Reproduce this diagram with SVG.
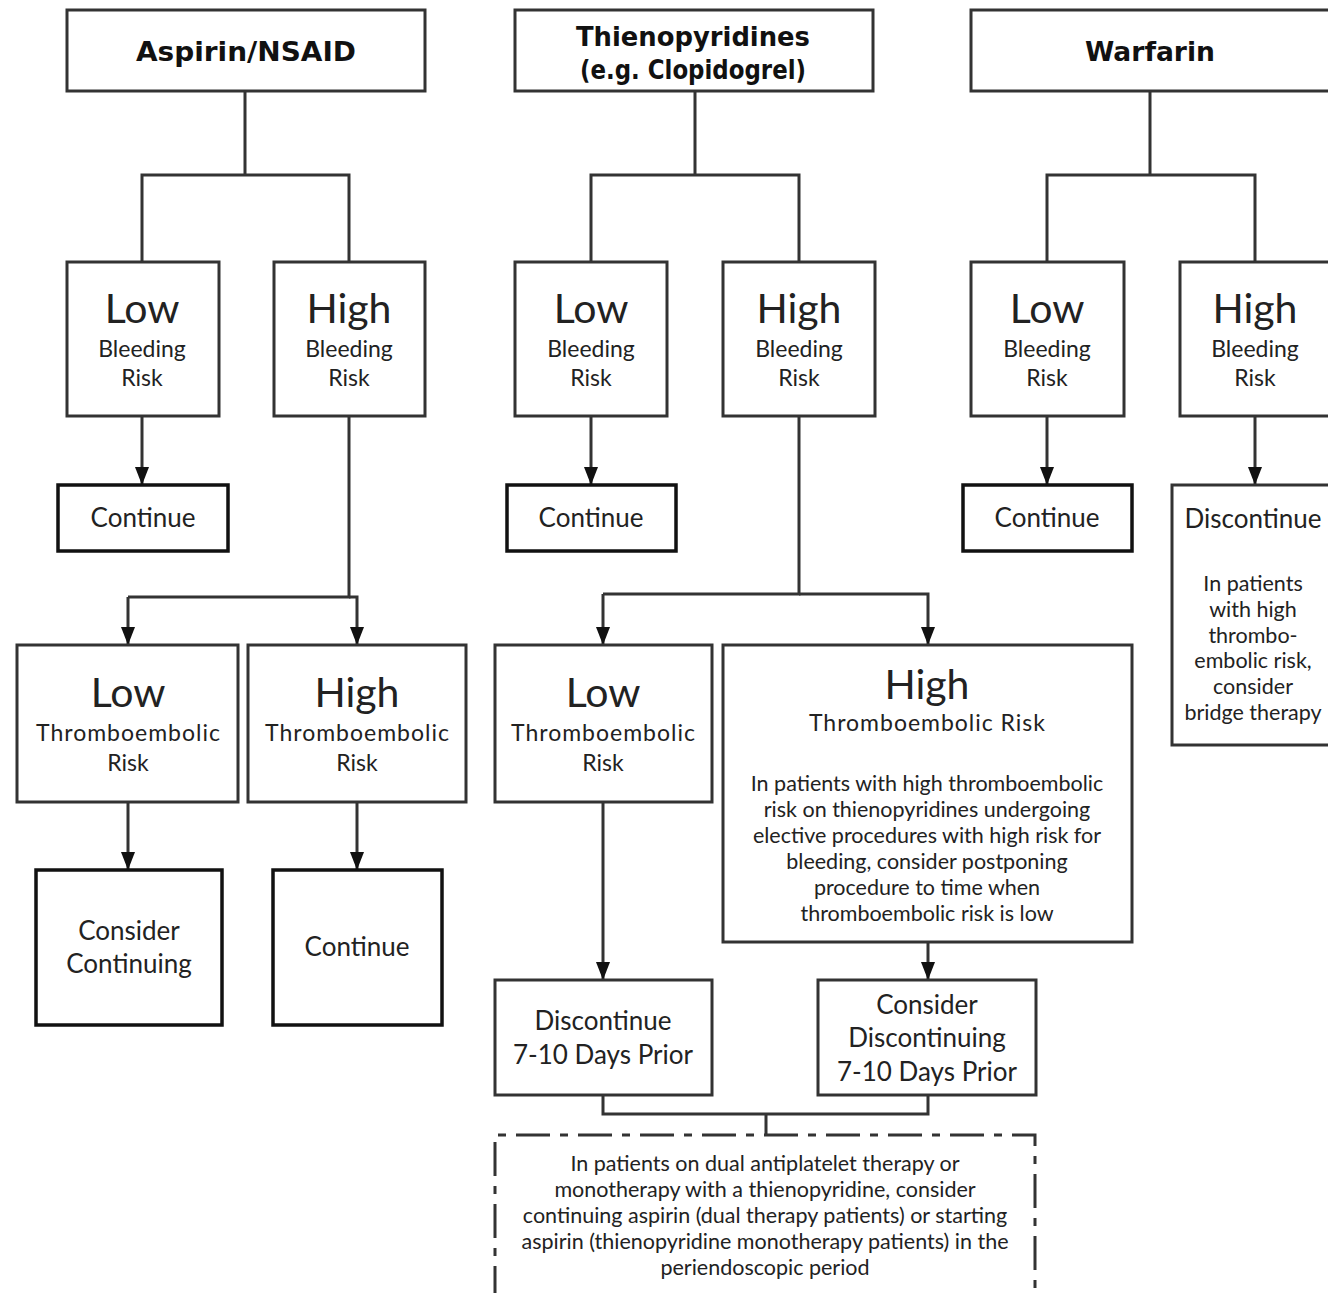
<svg xmlns="http://www.w3.org/2000/svg" width="1328" height="1293" viewBox="0 0 1328 1293">
<style>
.box{fill:#fff;stroke:#333;stroke-width:3}
.bbox{fill:#fff;stroke:#111;stroke-width:3.5}
.ln{fill:none;stroke:#333;stroke-width:3}
text{font-family:Lato,"Open Sans","Liberation Sans",sans-serif;fill:#222;text-anchor:middle}
.hd{font-family:"DejaVu Sans","Liberation Sans",sans-serif;font-weight:bold;font-size:26px;fill:#111}
.big{font-size:41px}
.mid{font-size:23px}
.act{font-size:26px}
.sm{font-size:21.5px}
.dash{fill:none;stroke:#333;stroke-width:3;stroke-dasharray:34 10 8 10}
</style>
<defs>
<marker id="ah" viewBox="0 -7 18 14" refX="18" refY="0" markerWidth="18" markerHeight="14" markerUnits="userSpaceOnUse" orient="auto">
<path d="M0,-7 L18,0 L0,7 z" fill="#111"/>
</marker>
</defs>

<g id="connectors">
<path class="ln" d="M245,91 V175 M142,262 V175 H349 V262"/>
<path class="ln" d="M695,91 V175 M591,262 V175 H799 V262"/>
<path class="ln" d="M1150,91 V175 M1047,262 V175 H1255 V262"/>
<path class="ln" d="M142,416 V485" marker-end="url(#ah)"/>
<path class="ln" d="M591,416 V485" marker-end="url(#ah)"/>
<path class="ln" d="M1047,416 V485" marker-end="url(#ah)"/>
<path class="ln" d="M1255,416 V485" marker-end="url(#ah)"/>
<path class="ln" d="M349,416 V597 H128"/>
<path class="ln" d="M128,597 V645" marker-end="url(#ah)"/>
<path class="ln" d="M349,597 H357 V645" marker-end="url(#ah)"/>
<path class="ln" d="M128,802 V870" marker-end="url(#ah)"/>
<path class="ln" d="M357,802 V870" marker-end="url(#ah)"/>
<path class="ln" d="M799,416 V594 H603"/>
<path class="ln" d="M603,594 V645" marker-end="url(#ah)"/>
<path class="ln" d="M799,594 H928 V645" marker-end="url(#ah)"/>
<path class="ln" d="M603,802 V980" marker-end="url(#ah)"/>
<path class="ln" d="M928,942 V980" marker-end="url(#ah)"/>
<path class="ln" d="M603,1095 V1114 H928 V1095 M766,1114 V1135"/>
</g>

<g id="n-aspirin"><rect class="box" x="67" y="10" width="358" height="81"/><text class="hd" x="246" y="61" textLength="220" lengthAdjust="spacingAndGlyphs">Aspirin/NSAID</text></g>
<g id="n-thieno"><rect class="box" x="515" y="10" width="358" height="81"/><text class="hd" x="693" y="46" textLength="234" lengthAdjust="spacingAndGlyphs">Thienopyridines</text><text class="hd" x="693" y="79" textLength="226" lengthAdjust="spacingAndGlyphs">(e.g. Clopidogrel)</text></g>
<g id="n-warfarin"><rect class="box" x="971" y="10" width="360" height="81"/><text class="hd" x="1150" y="61" textLength="130" lengthAdjust="spacingAndGlyphs">Warfarin</text></g>

<g id="n-a-low-bleed"><rect class="box" x="67" y="262" width="152" height="154"/><text class="big" x="142" y="323">Low</text><text class="mid" x="142" y="357">Bleeding</text><text class="mid" x="142" y="386">Risk</text></g>
<g id="n-a-high-bleed"><rect class="box" x="274" y="262" width="151" height="154"/><text class="big" x="349" y="323">High</text><text class="mid" x="349" y="357">Bleeding</text><text class="mid" x="349" y="386">Risk</text></g>
<g id="n-t-low-bleed"><rect class="box" x="515" y="262" width="152" height="154"/><text class="big" x="591" y="323">Low</text><text class="mid" x="591" y="357">Bleeding</text><text class="mid" x="591" y="386">Risk</text></g>
<g id="n-t-high-bleed"><rect class="box" x="723" y="262" width="152" height="154"/><text class="big" x="799" y="323">High</text><text class="mid" x="799" y="357">Bleeding</text><text class="mid" x="799" y="386">Risk</text></g>
<g id="n-w-low-bleed"><rect class="box" x="971" y="262" width="153" height="154"/><text class="big" x="1047" y="323">Low</text><text class="mid" x="1047" y="357">Bleeding</text><text class="mid" x="1047" y="386">Risk</text></g>
<g id="n-w-high-bleed"><rect class="box" x="1180" y="262" width="151" height="154"/><text class="big" x="1255" y="323">High</text><text class="mid" x="1255" y="357">Bleeding</text><text class="mid" x="1255" y="386">Risk</text></g>

<g id="n-a-continue"><rect class="bbox" x="58" y="485" width="170" height="66"/><text class="act" x="143" y="527">Continue</text></g>
<g id="n-t-continue"><rect class="bbox" x="507" y="485" width="169" height="66"/><text class="act" x="591" y="527">Continue</text></g>
<g id="n-w-continue"><rect class="bbox" x="963" y="485" width="169" height="66"/><text class="act" x="1047" y="527">Continue</text></g>
<g id="n-w-discontinue"><rect class="box" x="1172" y="485" width="160" height="260"/><text class="act" x="1253" y="528">Discontinue</text>
<text class="sm" x="1253" y="591">In patients</text><text class="sm" x="1253" y="617">with high</text><text class="sm" x="1253" y="643">thrombo-</text><text class="sm" x="1253" y="668">embolic risk,</text><text class="sm" x="1253" y="694">consider</text><text class="sm" x="1253" y="720">bridge therapy</text></g>

<g id="n-a-low-thromb"><rect class="box" x="17" y="645" width="221" height="157"/><text class="big" x="128" y="707">Low</text><text class="mid" x="128" y="741" textLength="184" lengthAdjust="spacing">Thromboembolic</text><text class="mid" x="128" y="771">Risk</text></g>
<g id="n-a-high-thromb"><rect class="box" x="248" y="645" width="218" height="157"/><text class="big" x="357" y="707">High</text><text class="mid" x="357" y="741" textLength="184" lengthAdjust="spacing">Thromboembolic</text><text class="mid" x="357" y="771">Risk</text></g>
<g id="n-a-consider"><rect class="bbox" x="36" y="870" width="186" height="155"/><text class="act" x="129" y="940">Consider</text><text class="act" x="129" y="973">Continuing</text></g>
<g id="n-a-continue2"><rect class="bbox" x="273" y="870" width="169" height="155"/><text class="act" x="357" y="956">Continue</text></g>

<g id="n-t-low-thromb"><rect class="box" x="495" y="645" width="217" height="157"/><text class="big" x="603" y="707">Low</text><text class="mid" x="603" y="741" textLength="184" lengthAdjust="spacing">Thromboembolic</text><text class="mid" x="603" y="771">Risk</text></g>
<g id="n-t-high-thromb"><rect class="box" x="723" y="645" width="409" height="297"/><text class="big" x="927" y="699">High</text><text class="mid" x="927" y="731" textLength="236" lengthAdjust="spacing">Thromboembolic Risk</text>
<text class="sm" x="927" y="791">In patients with high thromboembolic</text><text class="sm" x="927" y="817">risk on thienopyridines undergoing</text><text class="sm" x="927" y="843">elective procedures with high risk for</text><text class="sm" x="927" y="869">bleeding, consider postponing</text><text class="sm" x="927" y="895">procedure to time when</text><text class="sm" x="927" y="921">thromboembolic risk is low</text></g>
<g id="n-t-discontinue"><rect class="box" x="495" y="980" width="217" height="115"/><text class="act" x="603" y="1030">Discontinue</text><text class="act" x="603" y="1064">7-10 Days Prior</text></g>
<g id="n-t-consider"><rect class="box" x="818" y="980" width="218" height="115"/><text class="act" x="927" y="1014">Consider</text><text class="act" x="927" y="1047">Discontinuing</text><text class="act" x="927" y="1081">7-10 Days Prior</text></g>

<g id="n-note"><path class="dash" d="M495,1300 V1135 H1035 V1300"/>
<text class="sm" x="765" y="1171">In patients on dual antiplatelet therapy or</text><text class="sm" x="765" y="1197">monotherapy with a thienopyridine, consider</text><text class="sm" x="765" y="1223">continuing aspirin (dual therapy patients) or starting</text><text class="sm" x="765" y="1249">aspirin (thienopyridine monotherapy patients) in the</text><text class="sm" x="765" y="1275">periendoscopic period</text></g>
</svg>
